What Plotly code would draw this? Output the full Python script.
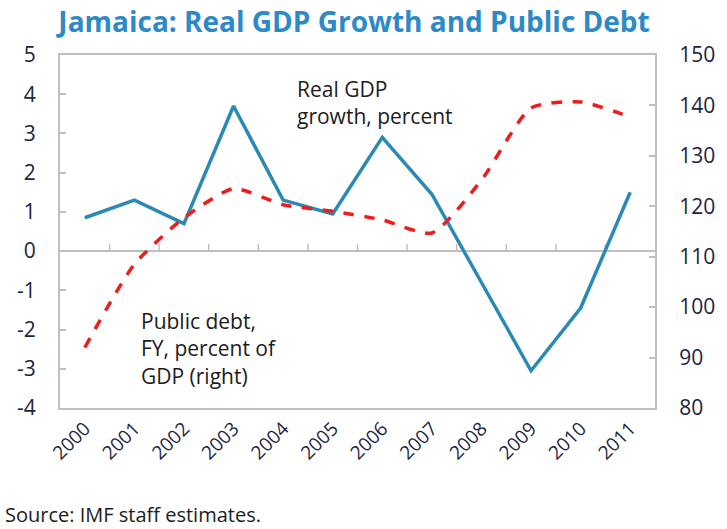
import plotly.graph_objects as go

years = [str(y) for y in range(2000, 2012)]
gdp_growth = [0.85, 1.3, 0.7, 3.7, 1.3, 0.95, 2.9, 1.45, -0.8, -3.05, -1.45, 1.5]
public_debt = [92, 108.5, 117.7, 123.5, 120.3, 119.0, 117.3, 114.7, 125.2, 139.5, 140.7, 137.7]
left_ticks = list(range(-4, 6))
left_labels = [str(v) for v in left_ticks]
right_ticks = list(range(80, 151, 10))

# category boundaries (between consecutive years) for the small ticks on the zero line
n = len(years)
boundaries = [i + 0.5 for i in range(n - 1)]

axis_gray = "#bfbfbf"
tick_font = dict(family="Open Sans", size=21, color="#1c2541")

fig = go.Figure()
fig.add_trace(go.Scatter(x=years, y=public_debt, mode="lines", yaxis="y2",
                         line=dict(color="#ee1c1c", width=3.5, dash="dash", shape="spline", smoothing=0.6),
                         showlegend=False))
fig.add_trace(go.Scatter(x=years, y=gdp_growth, mode="lines",
                         line=dict(color="#2a8ab5", width=3.5), showlegend=False))

shapes = [dict(type="line", xref="x", yref="y", x0=b, x1=b, ysizemode="pixel", yanchor=0,
               y0=0, y1=7, line=dict(color=axis_gray, width=1.5), layer="below")
          for b in boundaries]

fig.update_layout(
    width=727, height=529,
    margin=dict(l=60, r=72, t=55, b=121),
    paper_bgcolor="white", plot_bgcolor="white",
    title=dict(text="<b>Jamaica: Real GDP Growth and Public Debt</b>", x=0.487, xanchor="center",
               y=0.958, yanchor="middle",
               font=dict(family="Open Sans", size=28, color="#2d8ac7")),
    xaxis=dict(type="category", range=[-0.5, n - 0.5], showgrid=False, showline=True, mirror=True,
               linecolor=axis_gray, linewidth=2, ticks="", tickangle=-45,
               tickfont=dict(family="Open Sans", size=19, color="#1c2541")),
    yaxis=dict(range=[-4, 5], tickvals=left_ticks, ticktext=left_labels, showgrid=False,
               zeroline=True, zerolinecolor=axis_gray, zerolinewidth=2,
               showline=True, linecolor=axis_gray, linewidth=2,
               ticks="inside", ticklen=6, tickcolor=axis_gray, tickwidth=1.5,
               tickfont=tick_font, ticklabelstandoff=18),
    yaxis2=dict(range=[80, 150], tickvals=right_ticks, overlaying="y", side="right",
                showgrid=False, zeroline=False, showline=True, linecolor=axis_gray, linewidth=2,
                ticks="inside", ticklen=6, tickcolor=axis_gray, tickwidth=1.5,
                tickfont=tick_font, ticklabelstandoff=18),
    shapes=shapes,
    annotations=[
        dict(text="Real GDP<br>growth, percent", xref="paper", yref="paper", x=0.395, y=0.95,
             xanchor="left", yanchor="top", showarrow=False, align="left",
             font=dict(family="Open Sans", size=21, color="#1c1c1c")),
        dict(text="Public debt,<br>FY, percent of<br>GDP (right)", xref="paper", yref="paper",
             x=0.133, y=0.292, xanchor="left", yanchor="top", showarrow=False, align="left",
             font=dict(family="Open Sans", size=21, color="#1c1c1c")),
        dict(text="Source: IMF staff estimates.", xref="paper", yref="paper", x=-0.095, y=-0.303,
             xanchor="left", yanchor="middle", showarrow=False, align="left",
             font=dict(family="Open Sans", size=20, color="#1c1c1c")),
    ],
)

fig.write_html("out.html")
